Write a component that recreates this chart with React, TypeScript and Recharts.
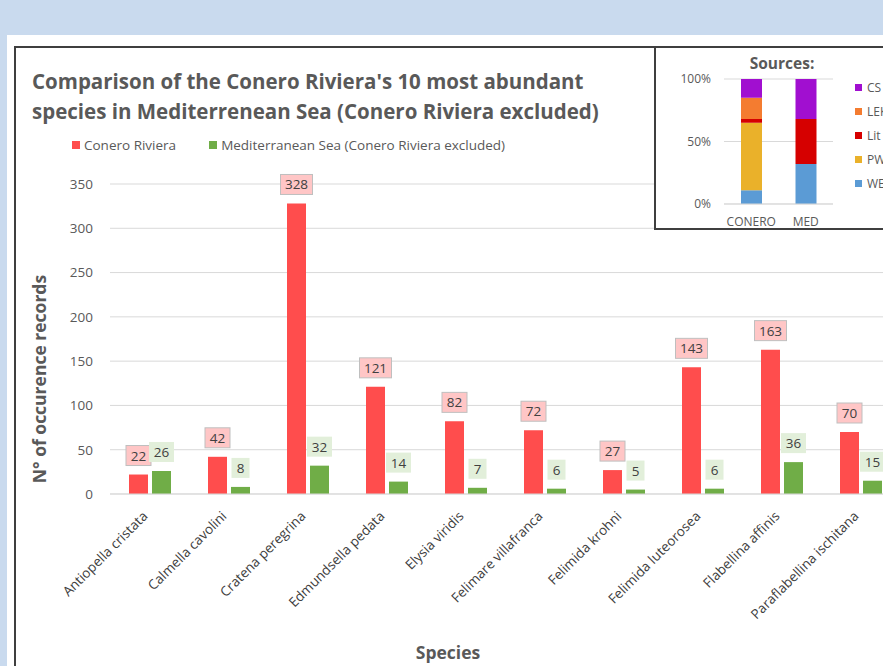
import { BarChart, Bar, XAxis, YAxis, CartesianGrid, Legend, LabelList } from 'recharts';

const species = [
    'Antiopella cristata',
    'Calmella cavolini',
    'Cratena peregrina',
    'Edmundsella pedata',
    'Elysia viridis',
    'Felimare villafranca',
    'Felimida krohni',
    'Felimida luteorosea',
    'Flabellina affinis',
    'Paraflabellina ischitana',
];
const coneroRiviera = [22, 42, 328, 121, 82, 72, 27, 143, 163, 70];
const mediterraneanSea = [26, 8, 32, 14, 7, 6, 5, 6, 36, 15];
const yTicks = [0, 50, 100, 150, 200, 250, 300, 350];

// inset: share of records by source (%)
const sourceSites = ['CONERO', 'MED'];
const webShare = [11, 32];
const pwShare = [54, 0];
const litShare = [3, 36];
const lekShare = [17, 0];
const csShare = [15, 32];
const pctTicks = [0, 50, 100];

const RED = '#FF4D4D';
const GREEN = '#70AD47';
const FONT = '"Open Sans", "Liberation Sans", sans-serif';

const SOURCES = [
    { key: 'CS', color: '#A10FD0' },
    { key: 'LEK', color: '#F47C30' },
    { key: 'Lit', color: '#D60000' },
    { key: 'PW', color: '#EAB12A' },
    { key: 'WEB', color: '#5B9BD5' },
];

const mainData = species.map((name, i) => ({
    name,
    conero: coneroRiviera[i],
    med: mediterraneanSea[i],
}));

const insetData = sourceSites.map((site, i) => ({
    site,
    WEB: webShare[i],
    PW: pwShare[i],
    Lit: litShare[i],
    LEK: lekShare[i],
    CS: csShare[i],
}));

// boxed value label like the excel data callouts
const boxLabel = (fill: string, stroke: string) => (props: any) => {
    const { x, y, width, value } = props;
    const w = String(value).length * 7 + 11;
    const h = 20;
    const cx = x + width / 2;
    const bottom = y - 9;
    return (
        <g>
            <rect x={cx - w / 2} y={bottom - h} width={w} height={h} fill={fill} stroke={stroke} strokeWidth={1} />
            <text x={cx} y={bottom - h / 2} textAnchor="middle" dominantBaseline="central" fontSize={13.5} fill="#404040" fontFamily={FONT}>
                {value}
            </text>
        </g>
    );
};

const SpeciesTick = ({ x, y, payload }: any) => {
    const tx = x - 1;
    const ty = y + 21;
    return (
        <text x={tx} y={ty} transform={`rotate(-45 ${tx} ${ty})`} textAnchor="end" fontSize={13.5} fill="#404040" fontFamily={FONT}>
            {payload.value}
        </text>
    );
};

const MainLegend = () => (
    <div style={{ display: 'flex', alignItems: 'center', fontSize: 13.5, color: '#595959', fontFamily: FONT, whiteSpace: 'nowrap' }}>
        <span style={{ width: 8, height: 8, background: RED, marginRight: 4 }} />
        <span style={{ marginRight: 33 }}>Conero Riviera</span>
        <span style={{ width: 8, height: 8, background: GREEN, marginRight: 4 }} />
        <span>Mediterranean Sea (Conero Riviera excluded)</span>
    </div>
);

const InsetLegend = () => (
    <div style={{ fontSize: 12, color: '#595959', fontFamily: FONT, whiteSpace: 'nowrap' }}>
        {SOURCES.map(s => (
            <div key={s.key} style={{ display: 'flex', alignItems: 'center', height: 24 }}>
                <span style={{ width: 7, height: 7, background: s.color, marginRight: 5 }} />
                <span>{s.key}</span>
            </div>
        ))}
    </div>
);

export default function App() {
    return (
        <div style={{ position: 'fixed', left: 0, top: 0, width: 883, height: 666, overflow: 'hidden', background: '#C9DAEE', fontFamily: FONT }}>
            <div style={{ position: 'absolute', left: 7, top: 35, width: 1000, height: 700, background: '#fff' }} />
            <div style={{ position: 'absolute', left: 14, top: 46, width: 1000, height: 700, border: '2px solid #3F3F3F', background: '#fff' }} />

            <div style={{ position: 'absolute', left: 32, top: 66, fontSize: 20.5, fontWeight: 700, color: '#595959', lineHeight: '30px', whiteSpace: 'nowrap' }}>
                Comparison of the Conero Riviera's 10 most abundant<br />
                species in Mediterrenean Sea (Conero Riviera excluded)
            </div>

            <div style={{ position: 'absolute', left: 0, top: 0 }}>
                <BarChart
                    width={910}
                    height={666}
                    data={mainData}
                    margin={{ top: 184, right: 10, bottom: 0, left: 0 }}
                    barCategoryGap={19}
                    barGap={4}
                >
                    <CartesianGrid vertical={false} stroke="#D9D9D9" />
                    <XAxis
                        dataKey="name"
                        interval={0}
                        height={172}
                        tickLine={false}
                        tickSize={0}
                        axisLine={{ stroke: '#D9D9D9' }}
                        tick={<SpeciesTick />}
                    />
                    <YAxis
                        width={110}
                        domain={[0, 350]}
                        ticks={yTicks}
                        interval={0}
                        tickLine={false}
                        axisLine={false}
                        tickSize={0}
                        tickMargin={17}
                        tick={{ fontSize: 13.5, fill: '#595959', fontFamily: FONT }}
                    />
                    <Legend
                        layout="horizontal"
                        align="center"
                        verticalAlign="middle"
                        wrapperStyle={{ left: 72, top: 136, width: 'auto' }}
                        content={<MainLegend />}
                    />
                    <Bar dataKey="conero" name="Conero Riviera" fill={RED} isAnimationActive={false}>
                        <LabelList dataKey="conero" content={boxLabel('#FFC6C6', '#BFBFBF')} />
                    </Bar>
                    <Bar dataKey="med" name="Mediterranean Sea (Conero Riviera excluded)" fill={GREEN} isAnimationActive={false}>
                        <LabelList dataKey="med" content={boxLabel('#E2EFDA', 'none')} />
                    </Bar>
                </BarChart>
            </div>

            <div style={{ position: 'absolute', left: 0, top: 300, width: 78, height: 160 }}>
                <div style={{ position: 'absolute', left: 39, top: 79, transform: 'translate(-50%, -50%) rotate(-90deg)', fontSize: 17.5, fontWeight: 700, color: '#595959', whiteSpace: 'nowrap' }}>
                    N° of occurence records
                </div>
            </div>

            <div style={{ position: 'absolute', left: 448, top: 652, transform: 'translate(-50%, -50%)', fontSize: 17.5, fontWeight: 700, color: '#595959', whiteSpace: 'nowrap' }}>
                Species
            </div>

            <div style={{ position: 'absolute', left: 654, top: 46, width: 262, height: 184, boxSizing: 'border-box', border: '2px solid #3F3F3F', background: '#fff' }}>
                <div style={{ position: 'absolute', left: 126, top: 15, transform: 'translate(-50%, -50%)', fontSize: 15.5, fontWeight: 700, color: '#595959', whiteSpace: 'nowrap' }}>
                    Sources:
                </div>
                <BarChart
                    width={258}
                    height={180}
                    data={insetData}
                    margin={{ top: 31, right: 81, bottom: 0, left: 0 }}
                    barSize={21}
                >
                    <CartesianGrid vertical={false} stroke="#D9D9D9" />
                    <XAxis
                        dataKey="site"
                        height={24}
                        tickLine={false}
                        tickSize={0}
                        tickMargin={13}
                        axisLine={{ stroke: '#D9D9D9' }}
                        tick={{ fontSize: 12, fill: '#595959', fontFamily: FONT }}
                    />
                    <YAxis
                        width={68}
                        domain={[0, 100]}
                        ticks={pctTicks}
                        interval={0}
                        tickLine={false}
                        axisLine={false}
                        tickSize={0}
                        tickMargin={13}
                        tickFormatter={(v: number) => `${v}%`}
                        tick={{ fontSize: 12, fill: '#595959', fontFamily: FONT }}
                    />
                    <Legend
                        layout="vertical"
                        align="center"
                        verticalAlign="middle"
                        wrapperStyle={{ left: 199, top: 27, width: 'auto' }}
                        content={<InsetLegend />}
                    />
                    {[...SOURCES].reverse().map(s => (
                        <Bar key={s.key} dataKey={s.key} stackId="src" fill={s.color} isAnimationActive={false} />
                    ))}
                </BarChart>
            </div>
        </div>
    );
}
